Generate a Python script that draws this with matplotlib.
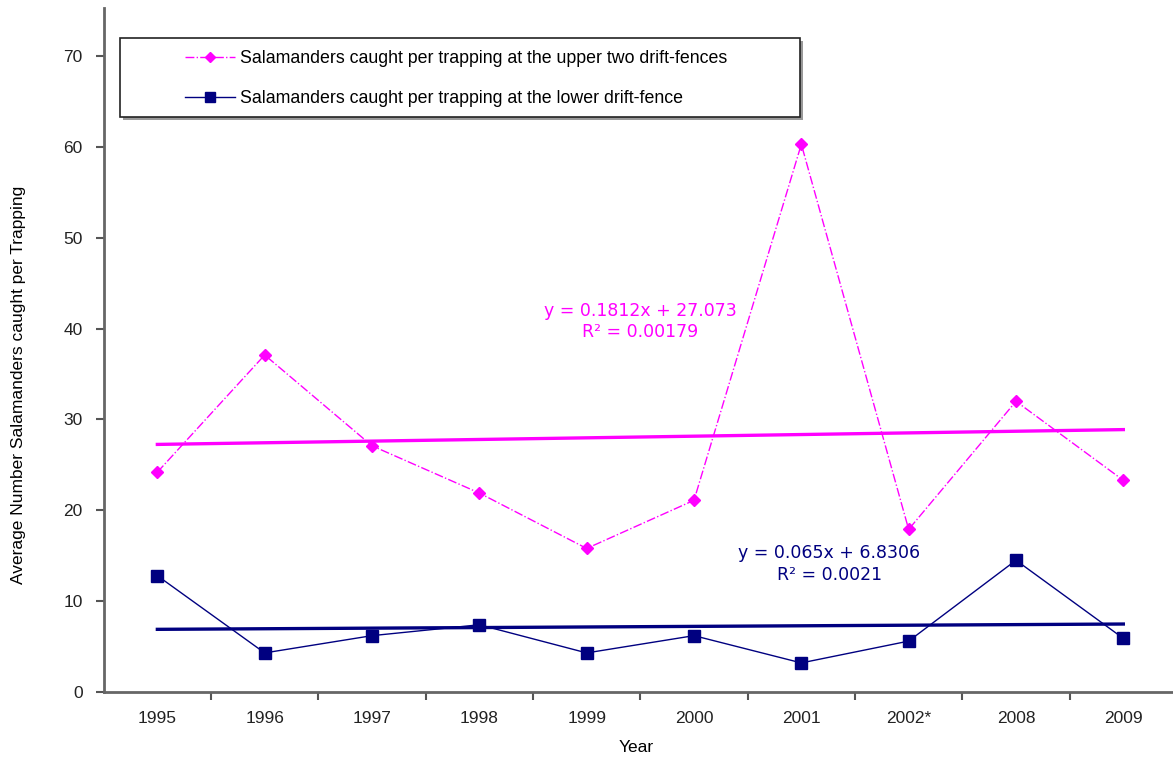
import numpy as np
import matplotlib.pyplot as plt
from matplotlib.patches import Rectangle

# ---------------------------------------------------------------
# Data: average salamanders caught per trapping session
# ---------------------------------------------------------------
years = ["1995", "1996", "1997", "1998", "1999", "2000", "2001", "2002*", "2008", "2009"]
upper_fences = [24.2, 37.1, 27.1, 21.9, 15.8, 21.1, 60.3, 17.9, 32.0, 23.3]
lower_fence = [12.8, 4.3, 6.2, 7.4, 4.3, 6.2, 3.2, 5.6, 14.5, 5.9]

# linear trend coefficients (slope, intercept) and R^2 values
upper_trend = (0.1812, 27.073)
upper_r2 = "0.00179"
lower_trend = (0.065, 6.8306)
lower_r2 = "0.0021"

PINK = "#FF00FF"
NAVY = "#000080"
sans = ["Liberation Sans", "DejaVu Sans"]

fig = plt.figure(figsize=(11.73, 7.62), dpi=100)
ax = fig.add_axes([0.0884, 0.0919, 0.9150, 0.8976])

x = np.arange(1, len(years) + 1)

ax.plot(x, upper_fences, color=PINK, linestyle="-.", linewidth=1.0,
        marker="D", markersize=6.5, zorder=3,
        label="Salamanders caught per trapping at the upper two drift-fences")
ax.plot(x, lower_fence, color=NAVY, linestyle="-", linewidth=1.0,
        marker="s", markersize=9, zorder=3,
        label="Salamanders caught per trapping at the lower drift-fence")

# trend lines from the fitted equations
xt = np.array([x[0], x[-1]])
ax.plot(xt, upper_trend[0] * xt + upper_trend[1], color=PINK, linewidth=2.4, zorder=2)
ax.plot(xt, lower_trend[0] * xt + lower_trend[1], color=NAVY, linewidth=2.4, zorder=2)

ax.text(5.5, 40.8, f"y = {upper_trend[0]}x + {upper_trend[1]}\nR\u00b2 = {upper_r2}",
        color=PINK, fontsize=12.5, ha="center", va="center", linespacing=1.25)
ax.text(7.26, 14.1, f"y = {lower_trend[0]}x + {lower_trend[1]}\nR\u00b2 = {lower_r2}",
        color=NAVY, fontsize=12.5, ha="center", va="center", linespacing=1.25)

# axes styling
ax.set_xlim(0.5, 10.5)
ax.set_ylim(0, 75.3)
ax.set_yticks(np.arange(0, 71, 10))
ax.set_xticks(x)
ax.set_xticklabels(years, fontsize=12.5, family=sans, color="#222222")
ax.set_xticks(np.arange(1.5, 10.5, 1), minor=True)
ax.tick_params(axis="x", which="major", length=0, pad=14)
ax.tick_params(axis="x", which="minor", length=6, width=1.5, color="#555555", direction="out")
ax.tick_params(axis="y", length=6, width=1.5, color="#555555", direction="out",
               labelsize=12.5, labelcolor="#222222", pad=9)
for lbl in ax.get_yticklabels():
    lbl.set_family(sans)
for spine in ("top", "right"):
    ax.spines[spine].set_visible(False)
for spine in ("left", "bottom"):
    ax.spines[spine].set_color("#666666")
    ax.spines[spine].set_linewidth(2.0)

fig.text(636 / 1173, 1 - 747 / 762, "Year", ha="center", va="center",
         fontsize=12.5, family=sans)
fig.text(19 / 1173, 1 - 385 / 762, "Average Number Salamanders caught per Trapping",
         ha="center", va="center", rotation=90, fontsize=12.5, family=sans)

# legend box with a light drop shadow
box_x, box_y = 120 / 1173, 1 - 117 / 762
box_w, box_h = 680 / 1173, 79 / 762
ax.add_patch(Rectangle((box_x + 3 / 1173, box_y - 3 / 762), box_w, box_h,
                       transform=fig.transFigure, clip_on=False,
                       facecolor="#999999", edgecolor="none", zorder=4))
ax.add_patch(Rectangle((box_x, box_y), box_w, box_h, transform=fig.transFigure,
                       clip_on=False, facecolor="white", edgecolor="#222222",
                       linewidth=1.2, zorder=4))
leg = ax.legend(loc="upper left", bbox_to_anchor=(185 / 1173, 1 - 50 / 762),
                bbox_transform=fig.transFigure, frameon=False, borderpad=0,
                borderaxespad=0, handlelength=2.8, handletextpad=0.3,
                labelspacing=1.3, markerscale=0.8, prop={"family": sans, "size": 12.8})
leg.set_zorder(5)

fig.savefig("out.png", dpi=100)
